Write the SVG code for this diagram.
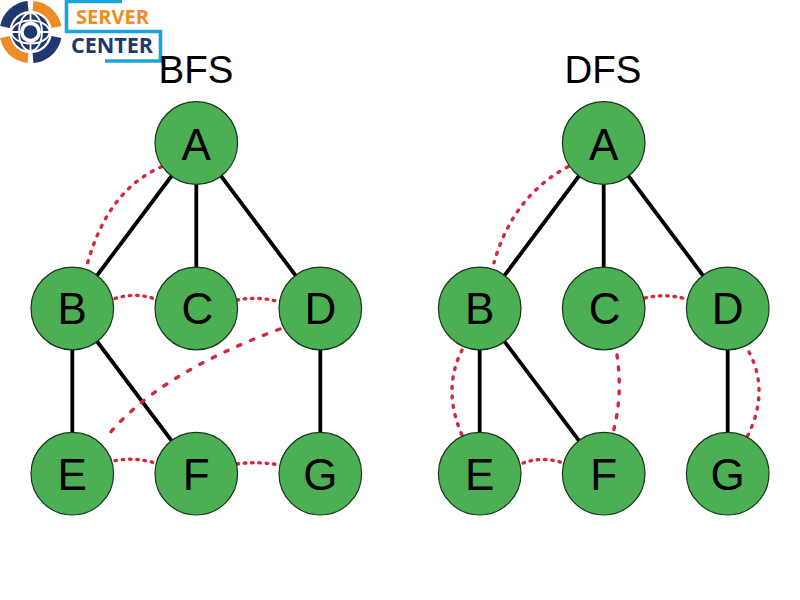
<svg xmlns="http://www.w3.org/2000/svg" width="800" height="600" viewBox="0 0 800 600">
<style>
text{font-family:"Liberation Sans",Arial,sans-serif;fill:#000}
.n circle{fill:#4caf54;stroke:#17351c;stroke-width:1.2}
.n text{font-size:44px;text-anchor:middle}
.t{font-size:38.500px;text-anchor:middle}
.e{stroke:#000;stroke-width:3.800;fill:none}
.d{stroke:#cf2a40;stroke-width:3.400;fill:none;stroke-linecap:round;stroke-dasharray:1.500 5.800}
.m{stroke-dasharray:2 7.500}
.w{stroke-dasharray:3.500 10.500}
.v{stroke-dasharray:3 9}
.lg{fill:none;stroke-width:10}
.wl{fill:none;stroke:#fff;stroke-width:1.800}
.br{fill:none;stroke:#1ba4de;stroke-width:3.600}
.lt{font-family:"Open Sans","Liberation Sans",sans-serif;font-weight:700}
</style>
<rect width="800" height="600" fill="#fff"/>
<g id="logo">
<path class="lg" stroke="#20386f" d="M5 27 A26 26 0 0 1 28 6"/>
<path class="lg" stroke="#ee8d26" d="M33 6 A26 26 0 0 1 56.500 27"/>
<path class="lg" stroke="#ee8d26" d="M5 37 A26 26 0 0 0 28 58"/>
<path class="lg" stroke="#20386f" d="M33 58 A26 26 0 0 0 56.500 37"/>
<circle cx="30.500" cy="32" r="19" fill="#20386f"/>
<ellipse class="wl" cx="30.500" cy="32" rx="11.500" ry="19"/>
<ellipse class="wl" cx="30.500" cy="32" rx="19" ry="11.500"/>
<path class="wl" stroke-width="2.200" d="M30.500 12V52M11 32H50"/>
<circle cx="30.500" cy="32" r="10.500" fill="#fff"/>
<circle cx="30.500" cy="32" r="6.800" fill="#20386f"/>
<path class="br" d="M122 1.500H66.500V31.500H160.500V61H105"/>
<text class="lt" x="76" y="24" font-size="20" textLength="73" lengthAdjust="spacingAndGlyphs" style="fill:#ee8d26">SERVER</text>
<text class="lt" x="71" y="53" font-size="21" textLength="82" lengthAdjust="spacingAndGlyphs" style="fill:#20386f">CENTER</text>
</g>
<text class="t" x="196" y="83">BFS</text>
<text class="t" x="603" y="83">DFS</text>
<g id="connectors">
<path class="e" d="M196.300 143L72.300 308.500M196.300 143V308.500M196.300 143L320.300 308.500M72.300 308.500V473.700M72.300 308.500L196.300 473.700M320.300 308.500V473.700"/>
<path class="e" d="M603.700 143L479.700 308.500M603.700 143V308.500M603.700 143L727.700 308.500M479.700 308.500V473.700M479.700 308.500L603.700 473.700M727.700 308.500V473.700"/>
<g id="bfs-tree">
<path class="d m" d="M161.700 166.700Q108 190 87.700 262.700"/>
<path class="d" d="M115 298.500Q135 292 155 299"/>
<path class="d" d="M237 300Q258 296 279 301.700"/>
<path class="d w" d="M280 329Q155 375 105 439"/>
<path class="d" d="M115 460.700Q135 457 155 463"/>
<path class="d" d="M237 464Q258 461 279 465"/>
</g>
<g id="dfs-tree">
<path class="d m" d="M568 166.700Q513 196 494 262.700"/>
<path class="d" d="M645 298Q665 293 686 299"/>
<path class="d m" d="M462 350Q442 390 462 435"/>
<path class="d v" d="M617 355Q623 395 613 433"/>
<path class="d m" d="M749 352Q770 392 747 437"/>
<path class="d" d="M523 463Q543 456 563 463"/>
</g>
</g>
<g id="bfs-a" class="n"><circle cx="196.300" cy="143" r="41.300"/><text x="196.300" y="159.500">A</text></g>
<g id="bfs-b" class="n"><circle cx="72.300" cy="308.500" r="41.300"/><text x="72.300" y="324.300">B</text></g>
<g id="bfs-c" class="n"><circle cx="196.300" cy="308.500" r="41.300"/><text x="197.300" y="324.300">C</text></g>
<g id="bfs-d" class="n"><circle cx="320.300" cy="308.500" r="41.300"/><text x="320.300" y="324.300">D</text></g>
<g id="bfs-e" class="n"><circle cx="72.300" cy="473.700" r="41.300"/><text x="72.300" y="490">E</text></g>
<g id="bfs-f" class="n"><circle cx="196.300" cy="473.700" r="41.300"/><text x="196.300" y="490">F</text></g>
<g id="bfs-g" class="n"><circle cx="320.300" cy="473.700" r="41.300"/><text x="320.300" y="490">G</text></g>
<g id="dfs-a" class="n"><circle cx="603.700" cy="143" r="41.300"/><text x="603.700" y="159.500">A</text></g>
<g id="dfs-b" class="n"><circle cx="479.700" cy="308.500" r="41.300"/><text x="479.700" y="324.300">B</text></g>
<g id="dfs-c" class="n"><circle cx="603.700" cy="308.500" r="41.300"/><text x="604.700" y="324.300">C</text></g>
<g id="dfs-d" class="n"><circle cx="727.700" cy="308.500" r="41.300"/><text x="727.700" y="324.300">D</text></g>
<g id="dfs-e" class="n"><circle cx="479.700" cy="473.700" r="41.300"/><text x="479.700" y="490">E</text></g>
<g id="dfs-f" class="n"><circle cx="603.700" cy="473.700" r="41.300"/><text x="603.700" y="490">F</text></g>
<g id="dfs-g" class="n"><circle cx="727.700" cy="473.700" r="41.300"/><text x="727.700" y="490">G</text></g>
</svg>
